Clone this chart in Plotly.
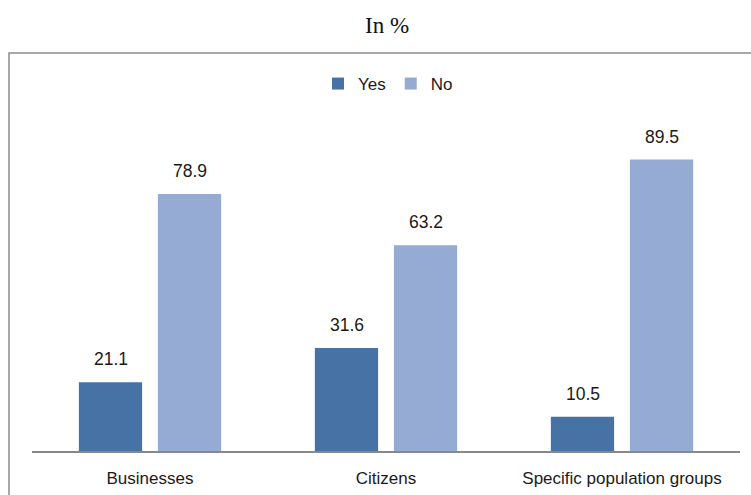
import plotly.graph_objects as go

categories = ["Businesses", "Citizens", "Specific population groups"]
yes_values = [21.1, 31.6, 10.5]
no_values = [78.9, 63.2, 89.5]
series_names = ["Yes", "No"]
title_text = "In %"

YES_COLOR = "#4672A6"
NO_COLOR = "#95ABD3"
FONT = "Liberation Sans, Arial, sans-serif"
TXT = "#1a1a1a"

L, R, T, B, W, H = 32, 11, 125, 44, 751, 495
pw, ph = W - L - R, H - T - B
def px_x(px):
    return (px - L) / pw
def px_y(py):
    return (H - B - py) / ph

fig = go.Figure()
fig.add_trace(go.Bar(name=series_names[0], x=categories, y=yes_values,
                     marker=dict(color=YES_COLOR, line=dict(width=0))))
fig.add_trace(go.Bar(name=series_names[1], x=categories, y=no_values,
                     marker=dict(color=NO_COLOR, line=dict(width=0))))

annotations = []
for i, c in enumerate(categories):
    for k, vals in enumerate([yes_values, no_values]):
        annotations.append(dict(
            x=c, y=vals[i], xref="x", yref="y", text=f"{vals[i]:.1f}",
            showarrow=False, yanchor="bottom", yshift=11,
            xshift=(-39.5 if k == 0 else 39.5),
            font=dict(family=FONT, size=17.5, color=TXT)))

annotations.append(dict(
    x=px_x(387), y=px_y(26), xref="paper", yref="paper", text=title_text,
    showarrow=False, xanchor="center", yanchor="middle",
    font=dict(family="Liberation Serif, Times New Roman, serif", size=23, color="#111")))

fig.update_layout(
    width=W, height=H,
    margin=dict(l=L, r=R, t=T, b=B, pad=0, autoexpand=False),
    paper_bgcolor="white", plot_bgcolor="white",
    barmode="group", bargap=0.33, bargroupgap=0.2,
    font=dict(family=FONT, size=17, color=TXT),
    showlegend=True,
    legend=dict(orientation="h", x=px_x(388), y=px_y(84), xanchor="center", yanchor="middle",
                font=dict(family=FONT, size=17, color=TXT),
                itemwidth=30, itemsizing="constant", bgcolor="rgba(0,0,0,0)",
                traceorder="normal"),
    xaxis=dict(showline=True, linecolor="#888888", linewidth=2, ticks="",
               tickfont=dict(family=FONT, size=17, color=TXT), automargin=False,
               ticklabelstandoff=11, showgrid=False, zeroline=False, fixedrange=True),
    yaxis=dict(range=[0, 100.1], visible=False, showgrid=False, zeroline=False,
               automargin=False),
    annotations=annotations,
    shapes=[dict(type="rect", xref="paper", yref="paper",
                 x0=px_x(9), x1=px_x(760), y0=px_y(505), y1=px_y(53),
                 line=dict(color="#8c8c8c", width=1.5), fillcolor="rgba(0,0,0,0)",
                 layer="below")],
)

fig.write_html("out.html")
